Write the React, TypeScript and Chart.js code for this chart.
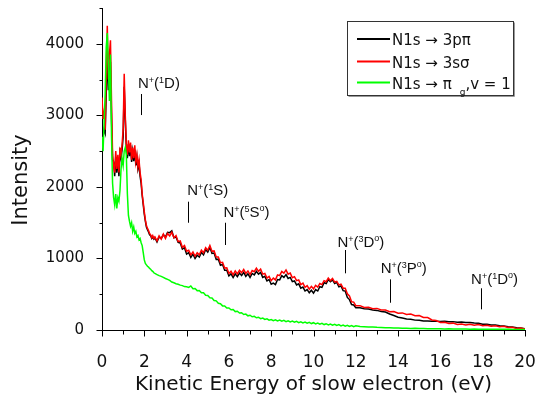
import React, { useEffect, useRef } from "react";
import { Chart, registerables } from "chart.js";

Chart.register(...registerables);

// Kinetic energy of slow electron (eV)
const energy = [
  0, 0.05, 0.1, 0.15, 0.2, 0.25, 0.3, 0.35, 0.4, 0.45,
  0.5, 0.55, 0.6, 0.65, 0.7, 0.75, 0.8, 0.85, 0.9, 0.95,
  1, 1.05, 1.1, 1.15, 1.2, 1.25, 1.3, 1.35, 1.4, 1.45,
  1.5, 1.55, 1.6, 1.65, 1.7, 1.75, 1.8, 1.85, 1.9, 1.95,
  2, 2.05, 2.1, 2.15, 2.2, 2.25, 2.3, 2.35, 2.4, 2.45,
  2.5,
  2.6, 2.7, 2.8, 2.9, 3, 3.1, 3.2, 3.3, 3.4, 3.5,
  3.6, 3.7, 3.8, 3.9, 4, 4.1, 4.2, 4.3, 4.4, 4.5,
  4.6, 4.7, 4.8, 4.9, 5, 5.1, 5.2, 5.3, 5.4, 5.5,
  5.6, 5.7, 5.8, 5.9, 6, 6.1, 6.2, 6.3, 6.4, 6.5,
  6.6, 6.7, 6.8, 6.9, 7, 7.1, 7.2, 7.3, 7.4, 7.5,
  7.6, 7.7, 7.8, 7.9, 8, 8.1, 8.2, 8.3, 8.4, 8.5,
  8.6, 8.7, 8.8, 8.9, 9, 9.1, 9.2, 9.3, 9.4, 9.5,
  9.6, 9.7, 9.8, 9.9, 10, 10.1, 10.2, 10.3, 10.4, 10.5,
  10.6, 10.7, 10.8, 10.9, 11, 11.1, 11.2, 11.3, 11.4, 11.5,
  11.6, 11.7, 11.8, 11.9, 12,
  12.2, 12.4, 12.6, 12.8, 13, 13.2, 13.4, 13.6, 13.8, 14,
  14.2, 14.4, 14.6, 14.8, 15, 15.2, 15.4, 15.6, 15.8, 16,
  16.2, 16.4, 16.6, 16.8, 17, 17.2, 17.4, 17.6, 17.8, 18,
  18.2, 18.4, 18.6, 18.8, 19, 19.2, 19.4, 19.6, 19.8, 20,
];

// N1s -> 3p pi (black)
const intensity3ppi = [
  2850, 2700, 2800, 2750, 3300, 3900, 3350, 3600, 3750, 2950,
  2380, 2350, 2150, 2420, 2200, 2400, 2150, 2480, 2400, 2520,
  2700, 3400, 2950, 2550, 2400, 2600, 2430, 2580, 2350, 2500,
  2360, 2520, 2300, 2420, 2250, 2330, 2150, 2050, 1880, 1750,
  1620, 1520, 1440, 1400, 1370, 1330, 1320, 1280, 1300, 1270,
  1290,
  1230, 1300, 1280, 1330, 1300, 1365, 1360, 1385, 1290, 1300,
  1225, 1215, 1130, 1150, 1060, 1080, 1015, 1060, 1000, 1045,
  1020, 1085, 1050, 1125, 1090, 1155, 1070, 1075, 985, 990,
  905, 915, 835, 835, 755, 785, 735, 785, 745, 795,
  760, 805, 750, 785, 735, 790, 770, 820, 780, 805,
  735, 750, 685, 705, 640, 655, 635, 705, 700, 760,
  735, 775, 720, 735, 675, 685, 630, 645, 585, 600,
  545, 565, 520, 555, 515, 565, 545, 605, 595, 660,
  650, 705, 675, 700, 650, 665, 605, 615, 550, 545,
  455, 425, 355, 350, 310,
  312, 296, 292, 280, 274, 260, 252, 224, 202, 178,
  167, 153, 149, 138, 136, 126, 126, 121, 124, 119,
  122, 116, 117, 110, 112, 106, 106, 97, 94, 82,
  79, 69, 69, 60, 57, 45, 42, 30, 28, 19,
];

// N1s -> 3s sigma (red)
const intensity3ssigma = [
  3250, 2950, 3050, 2800, 3600, 4250, 3500, 3850, 4050, 3200,
  2450, 2300, 2200, 2500, 2250, 2450, 2200, 2550, 2450, 2600,
  2800, 3580, 3000, 2600, 2450, 2650, 2480, 2620, 2380, 2550,
  2400, 2580, 2350, 2450, 2280, 2380, 2200, 2100, 1900, 1780,
  1650, 1540, 1460, 1420, 1390, 1350, 1330, 1290, 1320, 1280,
  1300,
  1245, 1315, 1270, 1340, 1280, 1350, 1315, 1365, 1290, 1320,
  1235, 1245, 1155, 1180, 1100, 1115, 1050, 1090, 1030, 1080,
  1050, 1115, 1080, 1150, 1115, 1180, 1100, 1105, 1020, 1020,
  940, 945, 865, 870, 790, 820, 770, 825, 785, 835,
  800, 845, 790, 825, 775, 830, 815, 865, 820, 850,
  780, 790, 725, 750, 690, 725, 700, 770, 760, 820,
  795, 840, 780, 795, 730, 745, 690, 700, 635, 655,
  595, 620, 570, 610, 575, 625, 600, 650, 635, 690,
  675, 725, 690, 720, 670, 680, 630, 640, 585, 585,
  505, 475, 395, 390, 340,
  340, 314, 319, 298, 302, 279, 279, 256, 257, 234,
  239, 216, 222, 199, 202, 174, 174, 141, 132, 106,
  108, 90, 96, 76, 84, 70, 81, 68, 76, 60,
  67, 52, 60, 46, 51, 34, 38, 21, 27, 14,
];

// N1s -> pi_g, v = 1 (green)
const intensityPig = [
  2700, 2500, 2900, 3300, 3950, 4150, 3700, 3200, 3850, 2700,
  2050, 1850, 1750, 1900, 1700, 1850, 1800, 1950, 2250, 2400,
  2300, 2500, 2550, 2450, 1900, 1600, 1520, 1450, 1500, 1380,
  1440, 1350, 1380, 1300, 1320, 1260, 1280, 1220, 1180, 1080,
  980, 930, 910, 890, 880, 860, 850, 830, 820, 800,
  790,
  775, 760, 750, 735, 720, 707, 693, 670, 660, 647,
  640, 627, 620, 607, 603, 595, 615, 577, 580, 550,
  553, 520, 520, 485, 483, 450, 447, 413, 407, 373,
  367, 337, 337, 307, 307, 283, 287, 257, 262, 237,
  242, 217, 222, 198, 206, 185, 191, 171, 179, 159,
  167, 148, 156, 138, 147, 131, 143, 126, 138, 122,
  134, 117, 129, 113, 125, 108, 120, 103, 115, 99,
  111, 94, 106, 90, 102, 85, 97, 81, 93, 76,
  88, 72, 84, 67, 79, 63, 75, 58, 70, 54,
  66, 50, 62, 46, 58,
  48, 46, 42, 41, 37, 36, 32, 32, 28, 28,
  25, 25, 22, 23, 20, 21, 18, 19, 17, 18,
  15, 16, 14, 15, 13, 14, 12, 13, 11, 12,
  10, 11, 10, 10, 9, 9, 8, 8, 7, 7,
];

const xMajorTicks = [0, 2, 4, 6, 8, 10, 12, 14, 16, 18, 20];
const xMinorTicks = [1, 3, 5, 7, 9, 11, 13, 15, 17, 19];
const yMajorTicks = [0, 1000, 2000, 3000, 4000];
const yMinorTicks = [500, 1500, 2500, 3500, 4500];

const seriesLabels = ["N1s \u2192 3p\u03c0", "N1s \u2192 3s\u03c3", "N1s \u2192 \u03c0"];
const seriesColors = ["#000000", "#ff0000", "#00ff00"];
const lastLabelSubscript = "g";
const lastLabelSuffix = ",v = 1";

const xTitle = "Kinetic Energy of slow electron (eV)";
const yTitle = "Intensity";

// Ion-state annotations N+(2S+1 L [o])
const annMultiplicity = ["1", "1", "5", "3", "3", "1"];
const annTerm = ["D", "S", "S", "D", "P", "D"];
const annOdd = [false, false, true, true, true, true];
const annLineEnergy = [1.84, 4.08, 5.83, 11.5, 13.6, 17.91];
const annLineTop = [3298, 1793, 1499, 1118, 708, 583];
const annLineBottom = [3004, 1499, 1188, 792, 381, 289];
const annTextEnergy = [1.7, 4.03, 5.74, 11.13, 13.18, 17.45];
const annTextBaseline = [3382, 1887, 1575, 1164, 792, 638];

const TEXT = "#111111";

const overlayPlugin = {
  id: "overlay",
  afterDraw(chart: any) {
    const { ctx, chartArea } = chart;
    const xs = chart.scales.x;
    const ys = chart.scales.y;
    ctx.save();
    ctx.strokeStyle = "#000";
    ctx.lineWidth = 1;
    const axisY = chartArea.bottom + 0.5;
    const axisX = chartArea.left + 0.5;
    const xt = (v: number, len: number) => {
      const px = Math.round(xs.getPixelForValue(v)) + 0.5;
      ctx.beginPath();
      ctx.moveTo(px, axisY);
      ctx.lineTo(px, axisY + len);
      ctx.stroke();
    };
    xMajorTicks.forEach((v) => xt(v, 6));
    xMinorTicks.forEach((v) => xt(v, 4));
    const yt = (v: number, len: number) => {
      const py = Math.round(ys.getPixelForValue(v)) + 0.5;
      ctx.beginPath();
      ctx.moveTo(axisX, py);
      ctx.lineTo(axisX - len, py);
      ctx.stroke();
    };
    yMajorTicks.forEach((v) => yt(v, 6));
    yMinorTicks.forEach((v) => yt(v, 3));

    // axis titles
    ctx.fillStyle = TEXT;
    ctx.textAlign = "center";
    ctx.textBaseline = "middle";
    ctx.font = '20px "DejaVu Sans"';
    ctx.fillText(xTitle, 313.5, 385);
    ctx.save();
    ctx.translate(22, 180);
    ctx.rotate(-Math.PI / 2);
    ctx.font = '21px "DejaVu Sans"';
    ctx.fillText(yTitle, 0, 0);
    ctx.restore();

    // annotations
    ctx.textAlign = "left";
    ctx.textBaseline = "alphabetic";
    const mainF = '15px "Liberation Sans"';
    const supF = '9px "Liberation Sans"';
    for (let i = 0; i < annTerm.length; i++) {
      let cx = xs.getPixelForValue(annTextEnergy[i]);
      const base = ys.getPixelForValue(annTextBaseline[i]);
      const put = (t: string, font: string, dy: number) => {
        ctx.font = font;
        ctx.fillText(t, cx, base + dy);
        cx += ctx.measureText(t).width;
      };
      put("N", mainF, 0);
      put("+", supF, -5);
      put("(", mainF, 0);
      put(annMultiplicity[i], supF, -5);
      put(annTerm[i], mainF, 0);
      if (annOdd[i]) put("o", supF, -6);
      put(")", mainF, 0);
      const lx = Math.round(xs.getPixelForValue(annLineEnergy[i])) + 0.5;
      ctx.beginPath();
      ctx.moveTo(lx, ys.getPixelForValue(annLineTop[i]));
      ctx.lineTo(lx, ys.getPixelForValue(annLineBottom[i]));
      ctx.stroke();
    }

    // legend
    const bx = 347.5, by = 21.5, bw = 166, bh = 74;
    ctx.fillStyle = "#ffffff";
    ctx.fillRect(bx, by, bw, bh);
    ctx.strokeStyle = "#333";
    ctx.lineWidth = 1;
    ctx.strokeRect(bx, by, bw, bh);
    ctx.strokeStyle = "#999";
    ctx.beginPath();
    ctx.moveTo(bx + bw + 1, by + 1);
    ctx.lineTo(bx + bw + 1, by + bh + 1);
    ctx.lineTo(bx + 1, by + bh + 1);
    ctx.stroke();
    const rowLine = [39, 61.5, 82.5];
    const rowBase = [44.5, 67.5, 89];
    for (let i = 0; i < seriesLabels.length; i++) {
      ctx.strokeStyle = seriesColors[i];
      ctx.lineWidth = 2;
      ctx.beginPath();
      ctx.moveTo(357, rowLine[i]);
      ctx.lineTo(390, rowLine[i]);
      ctx.stroke();
      ctx.fillStyle = TEXT;
      ctx.font = '15px "DejaVu Sans"';
      ctx.fillText(seriesLabels[i], 392, rowBase[i]);
      if (i === seriesLabels.length - 1) {
        let cx = 392 + ctx.measureText(seriesLabels[i]).width + 8;
        ctx.font = '9px "DejaVu Sans"';
        ctx.fillText(lastLabelSubscript, cx, rowBase[i] + 5.5);
        cx += ctx.measureText(lastLabelSubscript).width;
        ctx.font = '15px "DejaVu Sans"';
        ctx.fillText(lastLabelSuffix, cx, rowBase[i]);
      }
    }
    ctx.restore();
  },
};

export default function App() {
  const ref = useRef<HTMLCanvasElement | null>(null);
  useEffect(() => {
    if (!ref.current) return;
    const mk = (vals: number[]) => energy.map((e, i) => ({ x: e, y: vals[i] }));
    const series = [intensity3ppi, intensity3ssigma, intensityPig];
    const chart = new Chart(ref.current, {
      type: "line",
      data: {
        datasets: series.map((s, i) => ({
          label: seriesLabels[i],
          data: mk(s),
          borderColor: seriesColors[i],
          backgroundColor: seriesColors[i],
          borderWidth: 1.5,
          pointRadius: 0,
          tension: 0,
          fill: false,
          order: 3 - i,
        })),
      },
      options: {
        animation: false,
        responsive: false,
        events: [],
        layout: { padding: { left: 0, right: 15, top: 8, bottom: 0 } },
        plugins: {
          legend: { display: false },
          tooltip: { enabled: false },
        },
        scales: {
          x: {
            type: "linear",
            min: 0,
            max: 20,
            afterBuildTicks: (s: any) => {
              s.ticks = xMajorTicks.map((v) => ({ value: v }));
            },
            afterFit: (s: any) => {
              s.height = 71;
              s.paddingLeft = 0;
              s.paddingRight = 0;
            },
            grid: { display: false },
            border: { display: true, color: "#000", width: 1 },
            ticks: {
              autoSkip: false,
              maxRotation: 0,
              padding: 14,
              color: TEXT,
              font: { family: "DejaVu Sans", size: 17 },
              callback: (v: any) => String(v),
            },
          },
          y: {
            type: "linear",
            min: 0,
            max: 4500,
            afterBuildTicks: (s: any) => {
              s.ticks = yMajorTicks.map((v) => ({ value: v }));
            },
            afterFit: (s: any) => {
              s.width = 102;
              s.paddingTop = 0;
              s.paddingBottom = 0;
            },
            grid: { display: false },
            border: { display: true, color: "#000", width: 1 },
            ticks: {
              autoSkip: false,
              padding: 10,
              color: TEXT,
              font: { family: "DejaVu Sans", size: 15 },
              callback: (v: any) => String(v),
            },
          },
        },
      },
      plugins: [overlayPlugin],
    });
    return () => chart.destroy();
  }, []);
  return (
    <div style={{ position: "absolute", left: 0, top: 0, width: 540, height: 401 }}>
      <canvas ref={ref} width={540} height={401} style={{ width: 540, height: 401, display: "block" }} />
    </div>
  );
}
